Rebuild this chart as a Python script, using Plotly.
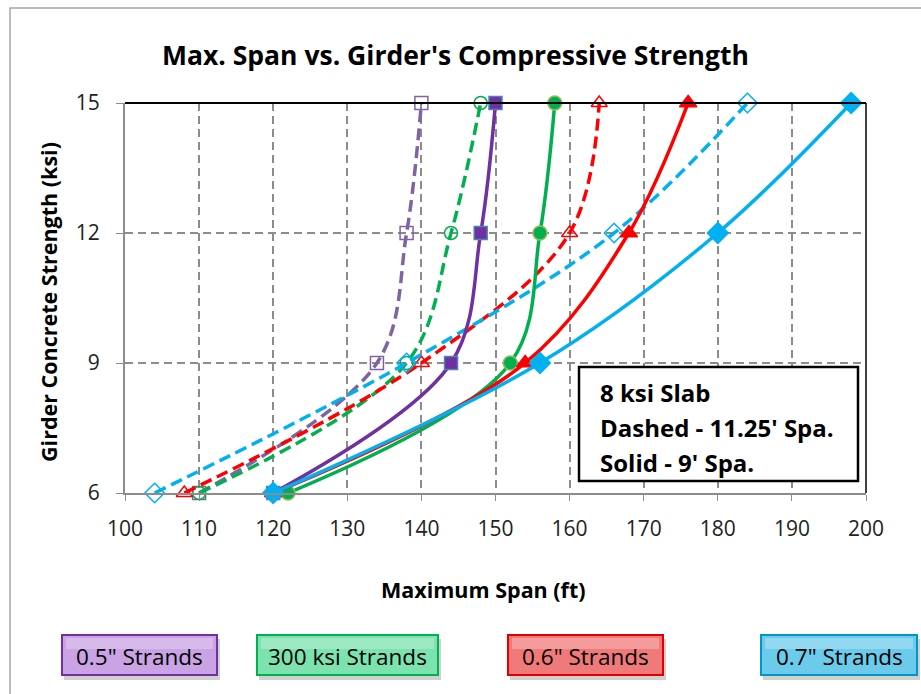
import plotly.graph_objects as go

# ---------------- data ----------------
strength = [6, 9, 12, 15]  # ksi

span_05_dashed = [110, 134, 138, 140]
span_05_solid = [120, 144, 148, 150]
span_300_dashed = [110, 138, 144, 148]
span_300_solid = [122, 152, 156, 158]
span_06_dashed = [108, 140, 160, 164]
span_06_solid = [120, 154, 168, 176]
span_07_dashed = [104, 138, 166, 184]
span_07_solid = [120, 156, 180, 198]

x_ticks = [100, 110, 120, 130, 140, 150, 160, 170, 180, 190, 200]
y_ticks = [6, 9, 12, 15]

legend_labels = ['0.5" Strands', '300 ksi Strands', '0.6" Strands', '0.7" Strands']
note_lines = ["8 ksi Slab", "Dashed - 11.25' Spa.", "Solid - 9' Spa."]

# ---------------- layout geometry ----------------
W, H = 921, 694
L, R, T, B = 125, 866, 103, 493
FONT = "Open Sans"


def px(x):
    return (x - L) / (R - L)


def py(y):
    return (B - y) / (B - T)


fig = go.Figure()

DASH = "12px,6px"
series = [
    (span_05_dashed, DASH, "#8064A2", "square-open", "#8064A2", "#8064A2", 13),
    (span_300_dashed, DASH, "#00B050", "circle-open", "#00B050", "#00B050", 13),
    (span_06_dashed, DASH, "#FF0000", "triangle-up-open", "#FF0000", "#FF0000", 14),
    (span_07_dashed, DASH, "#00B0F0", "diamond-open", "#00B0F0", "#00B0F0", 15),
    (span_05_solid, "solid", "#7030A0", "square", "#7030A0", "#4F81BD", 13),
    (span_300_solid, "solid", "#00B050", "circle", "#00B050", "#9BBB59", 14),
    (span_06_solid, "solid", "#FF0000", "triangle-up", "#FF0000", "#FF0000", 15),
    (span_07_solid, "solid", "#00B0F0", "diamond", "#00B0F0", "#00B0F0", 16),
]

for xs, dash, col, sym, mfill, mline, msize in series:
    fig.add_trace(go.Scatter(
        x=xs, y=strength, mode="lines+markers",
        line=dict(color=col, width=3.5, dash=dash, shape="spline", smoothing=1),
        marker=dict(symbol=sym, size=msize, color=mfill,
                    line=dict(color=mline, width=1.5)),
        showlegend=False, cliponaxis=False,
    ))

shapes = []
# outer chart border (left & top)
shapes.append(dict(type="rect", xref="paper", yref="paper",
                   x0=px(10), x1=px(930), y0=py(700), y1=py(8),
                   line=dict(color="#A6A6A6", width=1.5), layer="below"))
# top & right plot borders (black)
shapes.append(dict(type="line", xref="paper", yref="paper", x0=0, x1=1, y0=1, y1=1,
                   line=dict(color="black", width=2)))
shapes.append(dict(type="line", xref="paper", yref="paper", x0=1, x1=1, y0=0, y1=1,
                   line=dict(color="black", width=1.5)))

# note box
shapes.append(dict(type="rect", xref="paper", yref="paper",
                   x0=px(579), x1=px(858), y0=py(481), y1=py(367),
                   line=dict(color="black", width=2.5), fillcolor="white"))

annotations = []
for txt, yy in zip(note_lines, [392, 427, 462]):
    annotations.append(dict(text="<b>%s</b>" % txt, xref="paper", yref="paper",
                            x=px(598), y=py(yy), xanchor="left", yanchor="middle",
                            showarrow=False, font=dict(family=FONT, size=24, color="black")))

# legend buttons
btns = [
    (62, 217, "#C9A3E3", "#7030A0"),
    (257, 438, "#7DE3AE", "#00B050"),
    (508, 663, "#F07A7A", "#E00000"),
    (761, 917, "#6CCBEB", "#0096CC"),
]
for (x0, x1, fill, border), lab in zip(btns, legend_labels):
    y0, y1 = 635, 675
    shapes.append(dict(type="rect", xref="paper", yref="paper",
                       x0=px(x0 + 2), x1=px(x1 + 3), y0=py(y1 + 5), y1=py(y0 + 4),
                       line=dict(width=0), fillcolor="rgba(120,120,120,0.35)"))
    shapes.append(dict(type="rect", xref="paper", yref="paper",
                       x0=px(x0), x1=px(x1), y0=py(y1), y1=py(y0),
                       line=dict(color=border, width=2), fillcolor=fill))
    shapes.append(dict(type="rect", xref="paper", yref="paper",
                       x0=px(x0 + 4), x1=px(x1 - 4), y0=py(y0 + 14), y1=py(y0 + 3),
                       line=dict(width=0), fillcolor="rgba(255,255,255,0.25)"))
    annotations.append(dict(text=lab, xref="paper", yref="paper",
                            x=px((x0 + x1) / 2), y=py(656), xanchor="center", yanchor="middle",
                            showarrow=False, font=dict(family=FONT, size=22.5, color="black")))

# title and axis titles
annotations.append(dict(text="<b>Max. Span vs. Girder's Compressive Strength</b>",
                        xref="paper", yref="paper", x=px(455), y=py(55),
                        xanchor="center", yanchor="middle", showarrow=False,
                        font=dict(family=FONT, size=26.5, color="black")))
annotations.append(dict(text="<b>Maximum Span (ft)</b>", xref="paper", yref="paper",
                        x=px(483), y=py(589), xanchor="center", yanchor="middle",
                        showarrow=False, font=dict(family=FONT, size=21.5, color="black")))
annotations.append(dict(text="<b>Girder Concrete Strength (ksi)</b>", xref="paper", yref="paper",
                        x=px(48), y=py(302), xanchor="center", yanchor="middle",
                        textangle=-90, showarrow=False,
                        font=dict(family=FONT, size=21.5, color="black")))

fig.update_layout(
    width=W, height=H,
    margin=dict(l=L, r=W - R, t=T, b=H - B, pad=0),
    paper_bgcolor="white", plot_bgcolor="white",
    shapes=shapes, annotations=annotations,
    font=dict(family=FONT, color="#222222"),
)
fig.update_xaxes(range=[100, 200], tickvals=x_ticks, ticktext=[str(v) for v in x_ticks],
                 showgrid=True, gridcolor="#8C8C8C", griddash="8px,5px", gridwidth=1.5,
                 showline=True, linecolor="#8C8C8C", linewidth=2,
                 ticks="outside", ticklen=6, tickcolor="#8C8C8C", ticklabelstandoff=10,
                 tickfont=dict(family=FONT, size=21, color="#222222"), zeroline=False)
fig.update_yaxes(range=[6, 15], tickvals=y_ticks,
                 showgrid=True, gridcolor="#8C8C8C", griddash="8px,5px", gridwidth=1.5,
                 showline=True, linecolor="#8C8C8C", linewidth=2,
                 ticks="outside", ticklen=7, tickcolor="#8C8C8C", ticklabelstandoff=12,
                 tickfont=dict(family=FONT, size=21, color="#222222"), zeroline=False)

fig.write_html("out.html")
